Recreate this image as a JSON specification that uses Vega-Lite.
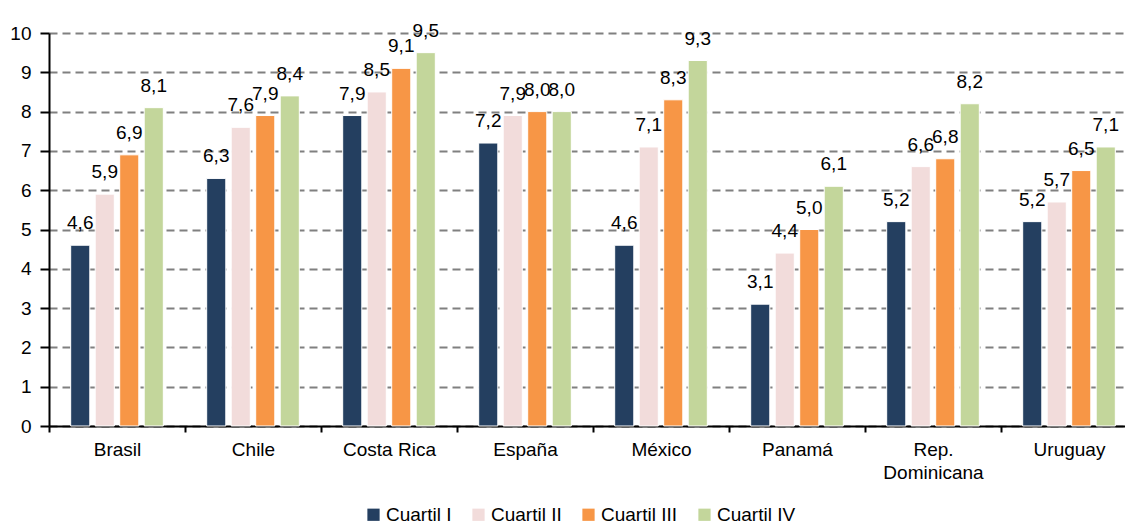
{
  "$schema": "https://vega.github.io/schema/vega-lite/v6.json",
  "autosize": "none",
  "width": 1088,
  "height": 393,
  "padding": {"left": 49, "top": 33, "right": 0, "bottom": 101},
  "background": "white",
  "config": {
    "font": "Liberation Sans",
    "view": {"stroke": null},
    "locale": {"number": {"decimal": ",", "thousands": ".", "grouping": [3], "currency": ["", ""]}}
  },
  "data": {
    "values": [
      {"pais": "Brasil", "cuartil": "Cuartil I", "valor": 4.6},
      {"pais": "Brasil", "cuartil": "Cuartil II", "valor": 5.9},
      {"pais": "Brasil", "cuartil": "Cuartil III", "valor": 6.9},
      {"pais": "Brasil", "cuartil": "Cuartil IV", "valor": 8.1},
      {"pais": "Chile", "cuartil": "Cuartil I", "valor": 6.3},
      {"pais": "Chile", "cuartil": "Cuartil II", "valor": 7.6},
      {"pais": "Chile", "cuartil": "Cuartil III", "valor": 7.9},
      {"pais": "Chile", "cuartil": "Cuartil IV", "valor": 8.4},
      {"pais": "Costa Rica", "cuartil": "Cuartil I", "valor": 7.9},
      {"pais": "Costa Rica", "cuartil": "Cuartil II", "valor": 8.5},
      {"pais": "Costa Rica", "cuartil": "Cuartil III", "valor": 9.1},
      {"pais": "Costa Rica", "cuartil": "Cuartil IV", "valor": 9.5},
      {"pais": "España", "cuartil": "Cuartil I", "valor": 7.2},
      {"pais": "España", "cuartil": "Cuartil II", "valor": 7.9},
      {"pais": "España", "cuartil": "Cuartil III", "valor": 8.0},
      {"pais": "España", "cuartil": "Cuartil IV", "valor": 8.0},
      {"pais": "México", "cuartil": "Cuartil I", "valor": 4.6},
      {"pais": "México", "cuartil": "Cuartil II", "valor": 7.1},
      {"pais": "México", "cuartil": "Cuartil III", "valor": 8.3},
      {"pais": "México", "cuartil": "Cuartil IV", "valor": 9.3},
      {"pais": "Panamá", "cuartil": "Cuartil I", "valor": 3.1},
      {"pais": "Panamá", "cuartil": "Cuartil II", "valor": 4.4},
      {"pais": "Panamá", "cuartil": "Cuartil III", "valor": 5.0},
      {"pais": "Panamá", "cuartil": "Cuartil IV", "valor": 6.1},
      {"pais": "Rep. Dominicana", "cuartil": "Cuartil I", "valor": 5.2},
      {"pais": "Rep. Dominicana", "cuartil": "Cuartil II", "valor": 6.6},
      {"pais": "Rep. Dominicana", "cuartil": "Cuartil III", "valor": 6.8},
      {"pais": "Rep. Dominicana", "cuartil": "Cuartil IV", "valor": 8.2},
      {"pais": "Uruguay", "cuartil": "Cuartil I", "valor": 5.2},
      {"pais": "Uruguay", "cuartil": "Cuartil II", "valor": 5.7},
      {"pais": "Uruguay", "cuartil": "Cuartil III", "valor": 6.5},
      {"pais": "Uruguay", "cuartil": "Cuartil IV", "valor": 7.1}
    ]
  },
  "encoding": {
    "x": {
      "field": "pais", "type": "nominal", "sort": null,
      "scale": {"paddingInner": 0, "paddingOuter": 0},
      "axis": {
        "title": null, "labelAngle": 0, "tickBand": "extent",
        "domainColor": "black", "domainWidth": 2, "tickColor": "black", "tickWidth": 2, "tickSize": 6,
        "labelFontSize": 19, "labelColor": "black", "labelPadding": 8, "labelLineHeight": 23,
        "labelExpr": "datum.label == 'Rep. Dominicana' ? ['Rep.', 'Dominicana'] : datum.label"
      }
    },
    "xOffset": {
      "field": "cuartil", "type": "nominal",
      "sort": ["Cuartil I", "Cuartil II", "Cuartil III", "Cuartil IV"],
      "scale": {"paddingInner": 0.22, "paddingOuter": 0.885}
    },
    "y": {
      "field": "valor", "type": "quantitative",
      "scale": {"domain": [0, 10]},
      "axis": {
        "title": null, "values": [0, 1, 2, 3, 4, 5, 6, 7, 8, 9, 10], "labelOverlap": false,
        "domainColor": "black", "domainWidth": 2, "tickColor": "black", "tickWidth": 2, "tickSize": 9,
        "labelFontSize": 19, "labelColor": "black", "labelPadding": 9,
        "grid": true, "gridColor": "#808080", "gridWidth": 2, "gridDash": [8, 5]
      }
    }
  },
  "layer": [
    {
      "mark": {"type": "bar", "stroke": "white", "strokeWidth": 1},
      "encoding": {
        "color": {
          "field": "cuartil", "type": "nominal",
          "sort": ["Cuartil I", "Cuartil II", "Cuartil III", "Cuartil IV"],
          "scale": {"domain": ["Cuartil I", "Cuartil II", "Cuartil III", "Cuartil IV"], "range": ["#243F60", "#F2DCDB", "#F79646", "#C3D69B"]},
          "legend": {
            "title": null, "orient": "none", "direction": "horizontal",
            "legendX": 315, "legendY": 472,
            "symbolType": "square", "symbolSize": 150, "symbolStrokeWidth": 0,
            "labelFontSize": 19, "labelColor": "black", "labelOffset": 3,
            "columnPadding": 17, "padding": 0
          }
        }
      }
    },
    {
      "mark": {"type": "text", "baseline": "alphabetic", "dy": -16, "fontSize": 19, "color": "black"},
      "encoding": {
        "text": {"field": "valor", "type": "quantitative", "format": ".1f"}
      }
    }
  ]
}
